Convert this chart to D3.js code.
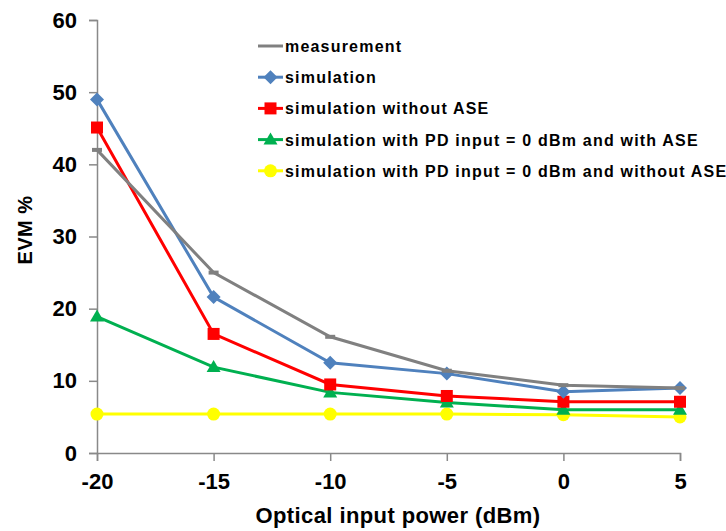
<!DOCTYPE html>
<html>
<head>
<meta charset="utf-8">
<script src="https://cdn.jsdelivr.net/npm/d3@7"></script>
<style>
  body { margin: 0; background: #fff; }
  text { font-family: "Liberation Sans", Arial, sans-serif; font-weight: bold; }
</style>
</head>
<body>
<div class="chart"></div>
<script>
// data
const powers = [-20, -15, -10, -5, 0, 5];
const measurement = [42, 25, 16.1, 11.4, 9.4, 9.0];
const simulation = [49, 21.6, 12.5, 11.0, 8.5, 9.0];
const simNoASE = [45.1, 16.5, 9.5, 7.9, 7.1, 7.1];
const simPdASE = [18.9, 11.9, 8.4, 7.0, 6.0, 6.0];
const simPdNoASE = [5.4, 5.4, 5.4, 5.4, 5.3, 5.0];
const yTicks = [0, 10, 20, 30, 40, 50, 60];

const series = [
  {name: "measurement", values: measurement, color: "#808080", mark: "dash"},
  {name: "simulation", values: simulation, color: "#4F81BD", mark: "diamond"},
  {name: "simulation without ASE", values: simNoASE, color: "#FF0000", mark: "square"},
  {name: "simulation with PD input = 0 dBm and with ASE", values: simPdASE, color: "#00B050", mark: "triangle"},
  {name: "simulation with PD input = 0 dBm and without ASE", values: simPdNoASE, color: "#FFFF00", mark: "circle"}
];

const W = 726, H = 531;
const margin = {top: 20, right: 46, bottom: 78, left: 97},
    width = W - margin.left - margin.right,
    height = H - margin.top - margin.bottom;

const svg = d3.select(".chart")
  .append("svg")
    .attr("width", W)
    .attr("height", H)
  .append("g")
    .attr("transform", "translate(" + margin.left + "," + margin.top + ")");

const x = d3.scaleLinear().domain([-20, 5]).range([0, width]);
const y = d3.scaleLinear().domain([0, 60]).range([height, 0]);

// axes (hyphen minus like the original)
const xAxis = svg.append("g")
  .attr("transform", "translate(0," + height + ")")
  .call(d3.axisBottom(x).tickValues(powers).tickFormat(d => String(d)).tickSize(8).tickPadding(12));
const yAxis = svg.append("g")
  .call(d3.axisLeft(y).tickValues(yTicks).tickSize(8).tickPadding(12));
[xAxis, yAxis].forEach(a => {
  a.select(".domain").attr("stroke", "#898989").attr("stroke-width", 1.5);
  a.selectAll(".tick line").attr("stroke", "#898989").attr("stroke-width", 1.5);
  a.selectAll(".tick text").attr("fill", "#000").style("font-size", "22px")
    .style("font-family", "'Liberation Sans', Arial, sans-serif").style("font-weight", "bold");
});

// axis titles
svg.append("text")
  .attr("text-anchor", "middle")
  .attr("transform", "rotate(-90)")
  .attr("x", -(230 - margin.top))
  .attr("y", 32 - margin.left)
  .style("font-size", "20px")
  .style("letter-spacing", "0.5px")
  .text("EVM %");

svg.append("text")
  .attr("text-anchor", "middle")
  .attr("x", 398 - margin.left)
  .attr("y", 523 - margin.top)
  .style("font-size", "22px")
  .style("letter-spacing", "0.4px")
  .text("Optical input power (dBm)");

function drawMark(g, type, color, cx, cy) {
  if (type === "dash") {
    g.append("rect").attr("x", cx - 5).attr("y", cy - 2).attr("width", 10).attr("height", 4).attr("fill", color);
  } else if (type === "diamond") {
    g.append("path").attr("d", `M${cx},${cy - 7}L${cx + 7},${cy}L${cx},${cy + 7}L${cx - 7},${cy}Z`).attr("fill", color);
  } else if (type === "square") {
    g.append("rect").attr("x", cx - 6).attr("y", cy - 6).attr("width", 12).attr("height", 12).attr("fill", color);
  } else if (type === "triangle") {
    g.append("path").attr("d", `M${cx},${cy - 7}L${cx + 7},${cy + 5}L${cx - 7},${cy + 5}Z`).attr("fill", color);
  } else {
    g.append("circle").attr("cx", cx).attr("cy", cy).attr("r", 6.5).attr("fill", color);
  }
}

const line = d3.line().x((d, i) => x(powers[i])).y(d => y(d));

// draw in reverse so measurement sits on top like the original
series.slice().reverse().forEach(s => {
  const g = svg.append("g");
  g.append("path")
    .datum(s.values)
    .attr("fill", "none")
    .attr("stroke", s.color)
    .attr("stroke-width", 3)
    .attr("d", line);
  s.values.forEach((v, i) => drawMark(g, s.mark, s.color, x(powers[i]), y(v)));
});

// legend
const legend = svg.append("g").attr("transform", "translate(161,26)");
series.forEach((s, i) => {
  const gy = i * 31.2;
  const lg = legend.append("g");
  lg.append("line").attr("x1", 0).attr("x2", 25).attr("y1", gy).attr("y2", gy)
    .attr("stroke", s.color).attr("stroke-width", 3);
  if (s.mark !== "dash") drawMark(lg, s.mark, s.color, 12.5, gy);
  lg.append("text")
    .attr("x", 27)
    .attr("y", gy + 6)
    .style("font-size", "16px")
    .style("letter-spacing", "1.2px")
    .text(s.name);
});
</script>
</body>
</html>
